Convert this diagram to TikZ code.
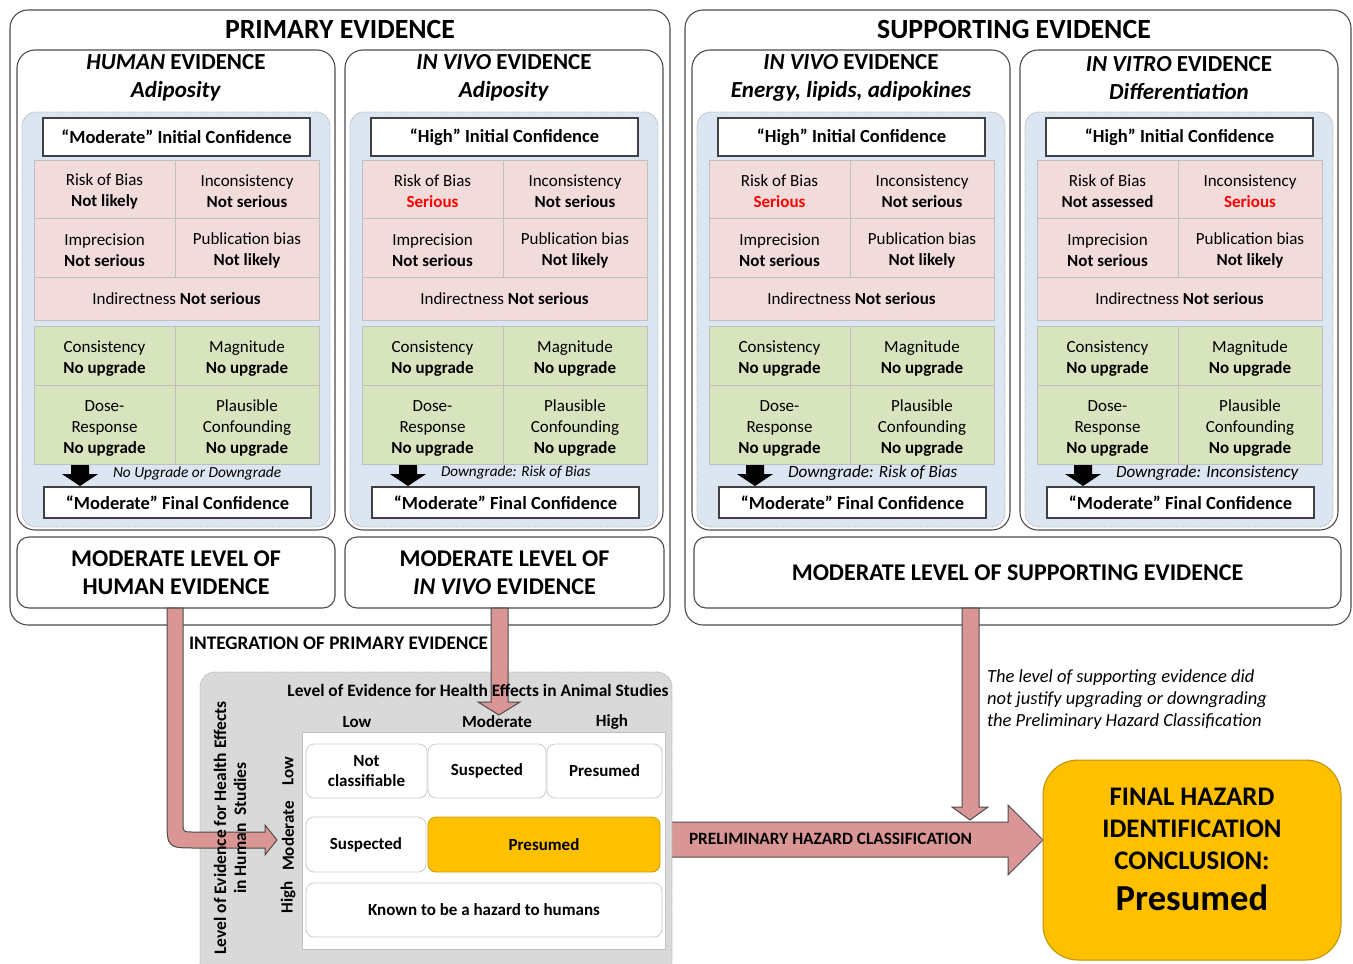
\documentclass[tikz,border=0pt]{standalone}
\usepackage{fontspec}
\setmainfont{Carlito}
\usetikzlibrary{calc}
\definecolor{pinkc}{HTML}{F2DCDB}
\definecolor{greenc}{HTML}{D7E4BD}
\definecolor{bluec}{HTML}{DCE6F2}
\definecolor{arrowc}{HTML}{D99694}
\definecolor{orangec}{HTML}{FFC000}
\definecolor{grayreg}{HTML}{D9D9D9}
\definecolor{redt}{HTML}{FF0000}
\newcommand\fs[2]{\fontsize{#1}{#2}\selectfont}
\newcommand\rd[1]{\textcolor{redt}{#1}}
\newcommand\upa{\rule{0pt}{17pt}}
\newcommand\upb{\rule{0pt}{18.5pt}}
\tikzset{
 bx/.style={outer sep=0pt, inner sep=0pt, align=center},
 nw/.style={anchor=north west},
 outerbox/.style={bx, nw, draw=black!70, line width=1.1pt, rounded corners=18pt},
 panelbox/.style={bx, nw, draw=black!70, line width=1.1pt, rounded corners=18pt},
 bluereg/.style={bx, nw, fill=bluec, draw=black!35, densely dotted, line width=0.8pt, rounded corners=14pt},
 wbox/.style={bx, nw, fill=white, draw=black!75, line width=1.3pt, font=\fs{18.5}{21}\bfseries},
 pcell/.style={bx, nw, fill=pinkc, draw=black!25, line width=0.8pt, font=\fs{17}{21}},
 gcell/.style={bx, nw, fill=greenc, draw=black!25, line width=0.8pt, font=\fs{17}{21}},
 levelbox/.style={bx, nw, fill=white, draw=black!70, line width=1.1pt, rounded corners=12pt, font=\fs{24}{28}\bfseries},
 mcell/.style={bx, nw, fill=white, draw=black!20, line width=0.8pt, rounded corners=8pt, font=\fs{17}{20}\bfseries},
 lbl/.style={bx, font=\fs{17}{20}\bfseries},
 parrow/.style={fill=arrowc, draw=black!70, line width=1pt},
}
\newcommand\panel[9]{%
\node[panelbox, minimum width=318pt, minimum height=480pt] (#2-box) at (#1,50) {};
\node[bx, font=\fs{23}{28}\bfseries] (#2-title) at ({#1+159},78) {#3\\#4};
\node[bluereg, minimum width=308pt, minimum height=415pt] (#2-blue) at ({#1+5},112) {};
\node[wbox, minimum width=267pt, minimum height=38pt] (#2-init) at ({#1+26},118) {#5};
\node[pcell, minimum width=141pt, minimum height=58pt] (#2-rob) at ({#1+17},160) {\upa Risk of Bias\\\textbf{#6}};
\node[pcell, minimum width=144pt, minimum height=58pt] (#2-inc) at ({#1+158},160) {\upa Inconsistency\\\textbf{#7}};
\node[pcell, minimum width=141pt, minimum height=59pt] (#2-imp) at ({#1+17},218) {\upa Imprecision\\\textbf{Not serious}};
\node[pcell, minimum width=144pt, minimum height=59pt] (#2-pub) at ({#1+158},218) {\upa Publication bias\\\textbf{Not likely}};
\node[pcell, minimum width=285pt, minimum height=43pt] (#2-ind) at ({#1+17},277) {Indirectness \textbf{Not serious}};
\node[gcell, minimum width=141pt, minimum height=59pt] (#2-con) at ({#1+17},326) {\upb Consistency\\\textbf{No upgrade}};
\node[gcell, minimum width=144pt, minimum height=59pt] (#2-mag) at ({#1+158},326) {\upb Magnitude\\\textbf{No upgrade}};
\node[gcell, minimum width=141pt, minimum height=79pt] (#2-dose) at ({#1+17},385) {\upb Dose-\\Response\\\textbf{No upgrade}};
\node[gcell, minimum width=144pt, minimum height=79pt] (#2-pla) at ({#1+158},385) {\upb Plausible\\Confounding\\\textbf{No upgrade}};
\fill[black] ({#1+54},465) -- ({#1+72},465) -- ({#1+72},474) -- ({#1+81},474) -- ({#1+63},486) -- ({#1+45},474) -- ({#1+54},474) -- cycle;
\node[bx, anchor=west, font=\fs{#9}{18}\itshape] (#2-down) at ({#1+96},473) {#8};
\node[wbox, minimum width=267pt, minimum height=31pt] (#2-fin) at ({#1+27},487) {“Moderate” Final Confidence};
}
\begin{document}
\begin{tikzpicture}[x=1pt, y=-1pt]
\useasboundingbox (0,0) rectangle (1353,964);
\clip (0,0) rectangle (1353,964);
% outer boxes
\node[outerbox, minimum width=660pt, minimum height=615pt] (prim) at (10,10) {};
\node[bx, font=\fs{27.8}{30}\bfseries] (primtitle) at (340,29) {PRIMARY EVIDENCE};
\node[outerbox, minimum width=666pt, minimum height=615pt] (supp) at (685,10) {};
\node[bx, font=\fs{27.8}{30}\bfseries] (supptitle) at (1014,29) {SUPPORTING EVIDENCE};
% panels
\panel{17}{hum}{\textit{HUMAN} EVIDENCE}{\textit{Adiposity}}{“Moderate” Initial Confidence}{Not likely}{Not serious}{No Upgrade or Downgrade}{15.4}
\panel{345}{viv}{\textit{IN VIVO} EVIDENCE}{\textit{Adiposity}}{“High” Initial Confidence}{\rd{Serious}}{Not serious}{Downgrade: Risk of Bias}{15.2}
\panel{692}{sviv}{\textit{IN VIVO} EVIDENCE}{\textit{Energy, lipids, adipokines}}{“High” Initial Confidence}{\rd{Serious}}{Not serious}{Downgrade: Risk of Bias}{17.2}
\panel{1020}{vit}{\textit{IN VITRO} EVIDENCE}{\textit{Differentiation}}{“High” Initial Confidence}{Not assessed}{\rd{Serious}}{Downgrade: Inconsistency}{17.1}
% level boxes
\node[levelbox, minimum width=318pt, minimum height=71pt] (humlev) at (17,537) {MODERATE LEVEL OF\\HUMAN EVIDENCE};
\node[levelbox, minimum width=319pt, minimum height=71pt] (vivlev) at (345,537) {MODERATE LEVEL OF\\\textit{IN VIVO} EVIDENCE};
\node[levelbox, minimum width=647pt, minimum height=71pt] (supplev) at (694,537) {MODERATE LEVEL OF SUPPORTING EVIDENCE};
% integration
\node[bx, anchor=west, font=\fs{19.2}{22}\bfseries] (integ) at (189,643) {INTEGRATION OF PRIMARY EVIDENCE};
% big arrow
\draw[parrow] (660,822) -- (1008,822) -- (1008,805) -- (1043,840) -- (1008,875) -- (1008,857) -- (660,857) -- cycle;
\node[bx, anchor=west, font=\fs{17.3}{20}\bfseries] (prelim) at (689,839) {PRELIMINARY HAZARD CLASSIFICATION};
% supporting arrow
\draw[parrow] (962,608) -- (962,807) -- (952,807) -- (970,820) -- (988,807) -- (979,807) -- (979,608) -- cycle;
\node[bx, anchor=west, align=left, font=\fs{18.5}{22}\itshape] (note) at (987,700) {The level of supporting evidence did\\not justify upgrading or downgrading\\the Preliminary Hazard Classification};
% gray region
\node[bx, nw, fill=grayreg, draw=black!35, densely dotted, line width=0.8pt, rounded corners=15pt, minimum width=472pt, minimum height=320pt] (intreg) at (200,672) {};
\node[bx, nw, fill=white, draw=black!25, line width=0.8pt, minimum width=363pt, minimum height=217pt] (grid) at (302,732) {};
\node[mcell, minimum width=121pt, minimum height=54pt] (c11) at (306,744) {Not\\classifiable};
\node[mcell, minimum width=118pt, minimum height=54pt] (c12) at (428,744) {Suspected};
\node[mcell, minimum width=115pt, minimum height=54pt] (c13) at (547,744) {Presumed};
\node[mcell, minimum width=120pt, minimum height=55pt] (c21) at (306,817) {Suspected};
\node[mcell, fill=orangec, draw=orangec!80!black, minimum width=232pt, minimum height=55pt] (c22) at (428,817) {Presumed};
\node[mcell, minimum width=356pt, minimum height=54pt] (c31) at (306,883) {Known to be a hazard to humans};
% primary arrows
\draw[parrow] (167,608) -- (167,818) .. controls (167,848) .. (197,848) -- (265,848) -- (265,855) -- (277,840) -- (265,825) -- (265,832) -- (193,832) .. controls (183,832) .. (183,822) -- (183,608) -- cycle;
\draw[parrow] (491,608) -- (491,702) -- (478,702) -- (499,715) -- (520,702) -- (508,702) -- (508,608) -- cycle;
% labels
\node[lbl, font=\fs{17.4}{20}\bfseries] (anim) at (478,690) {Level of Evidence for Health Effects in Animal Studies};
\node[lbl] (colL) at (357,722) {Low};
\node[lbl] (colM) at (497,722) {Moderate};
\node[lbl] (colH) at (612,722) {High};
\node[lbl, rotate=90] (rowL) at (288,771) {Low};
\node[lbl, rotate=90] (rowM) at (288,836) {Moderate};
\node[lbl, rotate=90] (rowH) at (288,897) {High};
\node[lbl, rotate=90, font=\fs{17.5}{20}\bfseries] (human) at (230,828) {Level of Evidence for Health Effects\\in Human \ Studies};
% final
\node[bx, nw, fill=orangec, draw=orangec!75!black, line width=1pt, rounded corners=35pt, minimum width=298pt, minimum height=200pt] (final) at (1043,760) {};
\node[bx, font=\fs{26.8}{32}\bfseries] (finaltxt) at (1192,849) {FINAL HAZARD\\IDENTIFICATION\\CONCLUSION:\\[9pt]{\fs{36.6}{40}Presumed}};
\end{tikzpicture}
\end{document}
